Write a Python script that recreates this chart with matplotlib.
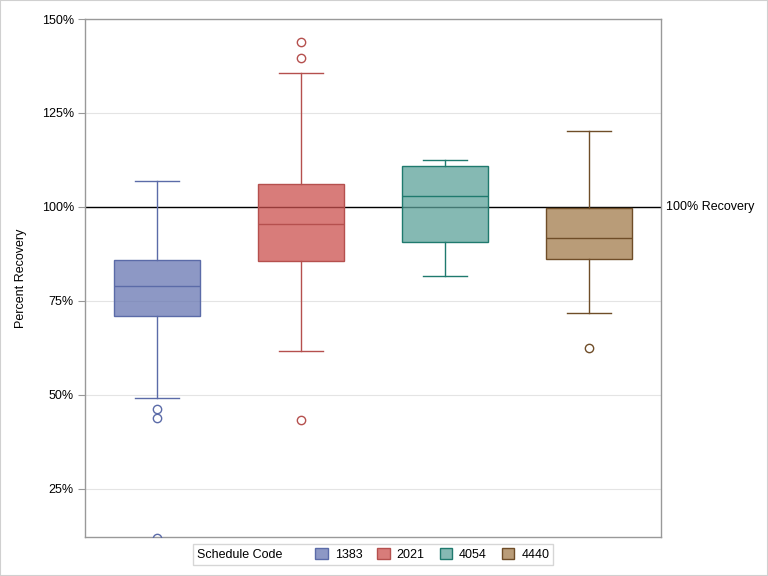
import matplotlib
matplotlib.use("Agg")
import matplotlib.pyplot as plt
from matplotlib.patches import Patch, Rectangle
from matplotlib.ticker import FuncFormatter
from matplotlib.offsetbox import HPacker

plt.rcParams["font.family"] = ["Liberation Sans", "DejaVu Sans"]

codes = ["1383", "2021", "4054", "4440"]
whislo = [49.2, 61.7, 81.6, 71.8]
q1 = [71.0, 85.6, 90.7, 86.2]
med = [79.0, 95.5, 102.9, 91.8]
q3 = [85.9, 106.1, 110.9, 99.8]
whishi = [106.9, 135.6, 112.5, 120.2]
fliers = [[46.2, 43.8, 11.9], [143.9, 139.6, 43.4], [], [62.5]]
yticks = [25, 50, 75, 100, 125, 150]
ref_value = 100

fills = ["#6776B2", "#CB504E", "#5CA29A", "#A27B4B"]
edges = ["#5B6BA8", "#B5504E", "#1F7A6E", "#6F4D28"]
legend_fills = ["#8D98C5", "#D87C7A", "#85B9B3", "#B99C78"]
box_alpha = 0.75
fs = 9

fig = plt.figure(figsize=(7.68, 5.76), dpi=100)
fig.patches.append(Rectangle((0, 0), 1, 1, transform=fig.transFigure,
                             fill=False, edgecolor="#d0d0d0", linewidth=1.5))
ax = fig.add_axes([85/768, 1 - 537/576, 576/768, 518/576])

ax.set_xlim(0.5, 4.5)
ax.set_ylim(12.2, 150)
for t in yticks:
    ax.axhline(t, color="#e4e4e4", linewidth=0.8, zorder=0)
ax.axhline(ref_value, color="black", linewidth=1.0, zorder=1)

for i, c in enumerate(codes):
    st = [dict(med=med[i], q1=q1[i], q3=q3[i], whislo=whislo[i],
               whishi=whishi[i], fliers=fliers[i], label=c)]
    res = ax.bxp(st, positions=[i + 1], widths=0.6, patch_artist=True,
                 showfliers=True,
                 boxprops=dict(facecolor=fills[i], edgecolor=edges[i], linewidth=1.0),
                 medianprops=dict(color=edges[i], linewidth=1.0),
                 whiskerprops=dict(color=edges[i], linewidth=1.0),
                 capprops=dict(color=edges[i], linewidth=1.0),
                 capwidths=0.3,
                 flierprops=dict(marker="o", markerfacecolor="none", markeredgecolor=edges[i],
                                 markersize=6, markeredgewidth=1.0))
    for b in res["boxes"]:
        b.set_facecolor(matplotlib.colors.to_rgba(fills[i], box_alpha))
        b.set_edgecolor(edges[i])
        b.set_zorder(2)
    for k in ("medians", "whiskers", "caps", "fliers"):
        for a in res[k]:
            a.set_zorder(3)

ax.set_xticks([])
ax.set_yticks(yticks)
ax.yaxis.set_major_formatter(FuncFormatter(lambda v, p: f"{int(v)}%"))
ax.tick_params(axis="y", length=5, color="#999999", labelsize=fs, pad=3)
for s in ax.spines.values():
    s.set_color("#999999")
    s.set_linewidth(1.0)
ax.set_ylabel("Percent Recovery", fontsize=fs)
ax.yaxis.set_label_coords(-58/576, 0.5)

ax.text(1.008, (ref_value - 12.2) / (150 - 12.2), "100% Recovery", transform=ax.transAxes,
        ha="left", va="center", fontsize=fs)

handles = [Patch(facecolor=legend_fills[i], edgecolor=edges[i], label=c) for i, c in enumerate(codes)]
leg = fig.legend(handles=handles, loc="center", bbox_to_anchor=(373/768, 1 - 554.5/576),
                 ncol=4, title="Schedule Code", fontsize=fs, title_fontsize=fs,
                 frameon=True, fancybox=False, edgecolor="#cccccc",
                 handlelength=1.0, handleheight=1.0, handletextpad=0.55, columnspacing=1.2,
                 borderpad=0.3)
leg.get_frame().set_linewidth(1.0)
title_box = leg._legend_title_box
content = leg._legend_handle_box
leg._legend_box._children = [HPacker(pad=0, sep=24, align="center", children=[title_box, content])]

fig.savefig("out.png", dpi=100)
